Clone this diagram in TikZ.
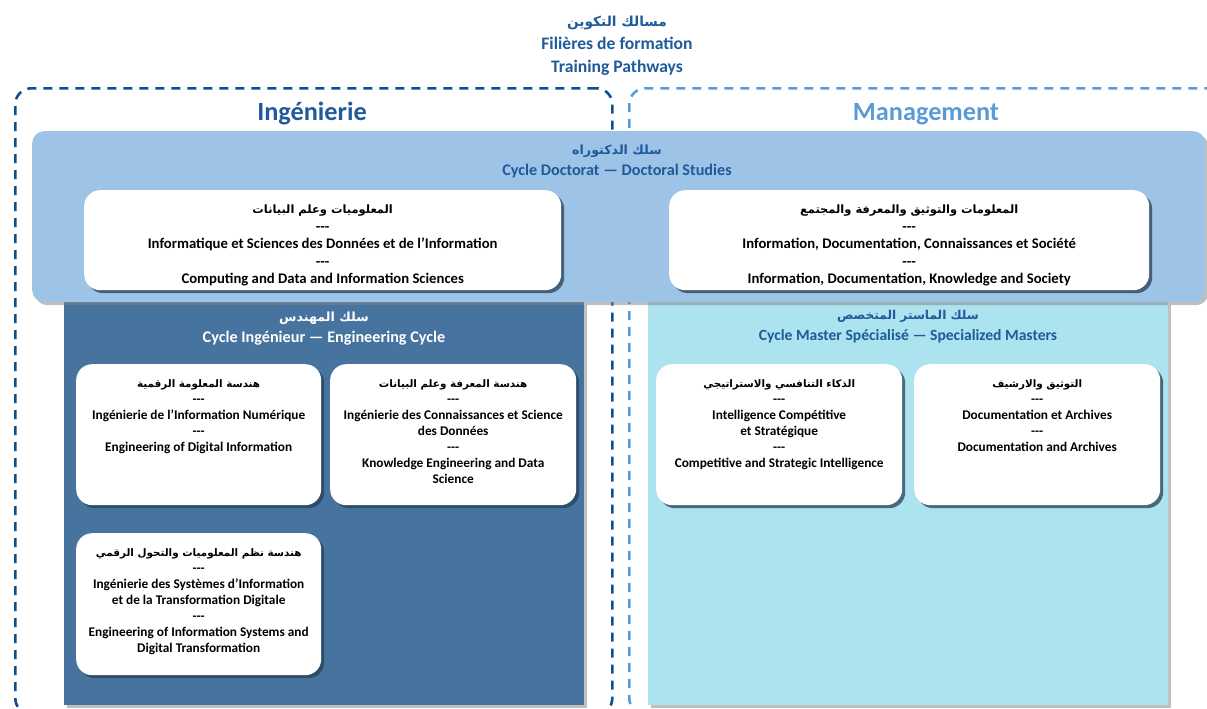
\documentclass[tikz,border=0pt]{standalone}
\usepackage{fontspec}
\setmainfont{Carlito}
\newfontfamily\arabicfont[Script=Arabic,Scale=0.78]{DejaVu Sans}
\TeXXeTstate=1
\usetikzlibrary{shadows}

\definecolor{titleblue}{HTML}{1F5A9A}
\definecolor{inkblue}{HTML}{11508F}
\definecolor{skyblue}{HTML}{5B9BD5}
\definecolor{docfill}{HTML}{9DC3E6}
\definecolor{engfill}{HTML}{46749F}
\definecolor{mstfill}{HTML}{ADE2EF}

% arabic line and the dash separator
\newcommand{\ar}[1]{{\arabicfont\beginR #1\endR}}
\newcommand{\sep}{-\kern0pt-\kern0pt-}

\begin{document}
\begin{tikzpicture}[x=1pt, y=-1pt,
	frame/.style={anchor=north west, dash pattern=on 9pt off 7pt, line width=2.6pt, rounded corners=16pt, inner sep=0pt},
	cyclebox/.style={anchor=north west, inner sep=0pt, drop shadow={shadow xshift=3pt, shadow yshift=-3pt, fill=black!50, opacity=0.5}},
	card/.style={anchor=north west, fill=white, rounded corners=16pt, inner sep=0pt,
		drop shadow={shadow xshift=3pt, shadow yshift=-3pt, fill=engfill!55!black, opacity=0.75}},
	cardtext/.style={anchor=north, align=center, inner sep=0pt, font=\bfseries\fontsize{13.3}{16}\selectfont},
	heading/.style={align=center, inner sep=0pt, font=\bfseries\fontsize{16.2}{21}\selectfont}]

	\useasboundingbox (0,0) rectangle (1207,709);

	% the two tracks
	\node[frame, draw=inkblue, minimum width=597pt, minimum height=626pt] (ingframe) at (14,87) {};
	\node[frame, draw=skyblue, minimum width=600pt, minimum height=626pt] (mgtframe) at (628,87) {};
	\node[font=\bfseries\fontsize{26.3}{30}\selectfont, text=titleblue] (ing) at (312,114) {Ingénierie};
	\node[font=\bfseries\fontsize{26.3}{30}\selectfont, text=skyblue] (mgt) at (926,114) {Management};

	\node[heading, font=\bfseries\fontsize{17.6}{23}\selectfont, text=titleblue] (title) at (617,46)
		{\ar{مسالك التكوين}\\Filières de formation\\Training Pathways};

	% engineering cycle
	\node[cyclebox, fill=engfill, minimum width=520pt, minimum height=403pt] (eng) at (64,302) {};
	\node[heading, text=white] (engtitle) at (324,329)
		{\ar{سلك المهندس}\\Cycle Ingénieur — Engineering Cycle};

	\node[card, minimum width=245pt, minimum height=141pt] (engA) at (76,364) {};
	\node[cardtext] (engAtxt) at ([yshift=-15pt]engA.north)
		{\ar{هندسة المعلومة الرقمية}\\\sep\\Ingénierie de l’Information Numérique\\\sep\\Engineering of Digital Information};

	\node[card, minimum width=246pt, minimum height=141pt] (engB) at (330,364) {};
	\node[cardtext] (engBtxt) at ([yshift=-15pt]engB.north)
		{\ar{هندسة المعرفة وعلم البيانات}\\\sep\\Ingénierie des Connaissances et Science\\des Données\\\sep\\Knowledge Engineering and Data\\Science};

	\node[card, minimum width=245pt, minimum height=142pt] (engC) at (76,533) {};
	\node[cardtext] (engCtxt) at ([yshift=-15pt]engC.north)
		{\ar{هندسة نظم المعلوميات والتحول الرقمي}\\\sep\\Ingénierie des Systèmes d’Information\\et de la Transformation Digitale\\\sep\\Engineering of Information Systems and\\Digital Transformation};

	% specialized masters
	\node[cyclebox, fill=mstfill, minimum width=520pt, minimum height=403pt] (mst) at (648,302) {};
	\node[heading, font=\bfseries\fontsize{15.6}{21}\selectfont, text=titleblue] (msttitle) at (908,327)
		{\ar{سلك الماستر المتخصص}\\Cycle Master Spécialisé — Specialized Masters};

	\node[card, minimum width=246pt, minimum height=141pt] (mstA) at (656,364) {};
	\node[cardtext] (mstAtxt) at ([yshift=-15pt]mstA.north)
		{\ar{الذكاء التنافسي والاستراتيجي}\\\sep\\Intelligence Compétitive\\et Stratégique\\\sep\\Competitive and Strategic Intelligence};

	\node[card, minimum width=246pt, minimum height=141pt] (mstB) at (914,364) {};
	\node[cardtext] (mstBtxt) at ([yshift=-15pt]mstB.north)
		{\ar{التوثيق والارشيف}\\\sep\\Documentation et Archives\\\sep\\Documentation and Archives};

	% doctoral studies, on top of both
	\node[cyclebox, fill=docfill, rounded corners=12pt, minimum width=1173pt, minimum height=171pt] (doc) at (32,131) {};
	\node[heading, text=titleblue] (doctitle) at (617,161)
		{\ar{سلك الدكتوراه}\\Cycle Doctorat — Doctoral Studies};

	\node[card, minimum width=477pt, minimum height=100pt] (docA) at (84,190) {};
	\node[cardtext, font=\bfseries\fontsize{14.7}{17.5}\selectfont] (docAtxt) at ([yshift=-15pt]docA.north)
		{\ar{المعلوميات وعلم البيانات}\\\sep\\Informatique et Sciences des Données et de l’Information\\\sep\\Computing and Data and Information Sciences};
	\node[card, minimum width=480pt, minimum height=100pt] (docB) at (669,190) {};
	\node[cardtext, font=\bfseries\fontsize{14.7}{17.5}\selectfont] (docBtxt) at ([yshift=-15pt]docB.north)
		{\ar{المعلومات والتوثيق والمعرفة والمجتمع}\\\sep\\Information, Documentation, Connaissances et Société\\\sep\\Information, Documentation, Knowledge and Society};

\end{tikzpicture}
\end{document}
